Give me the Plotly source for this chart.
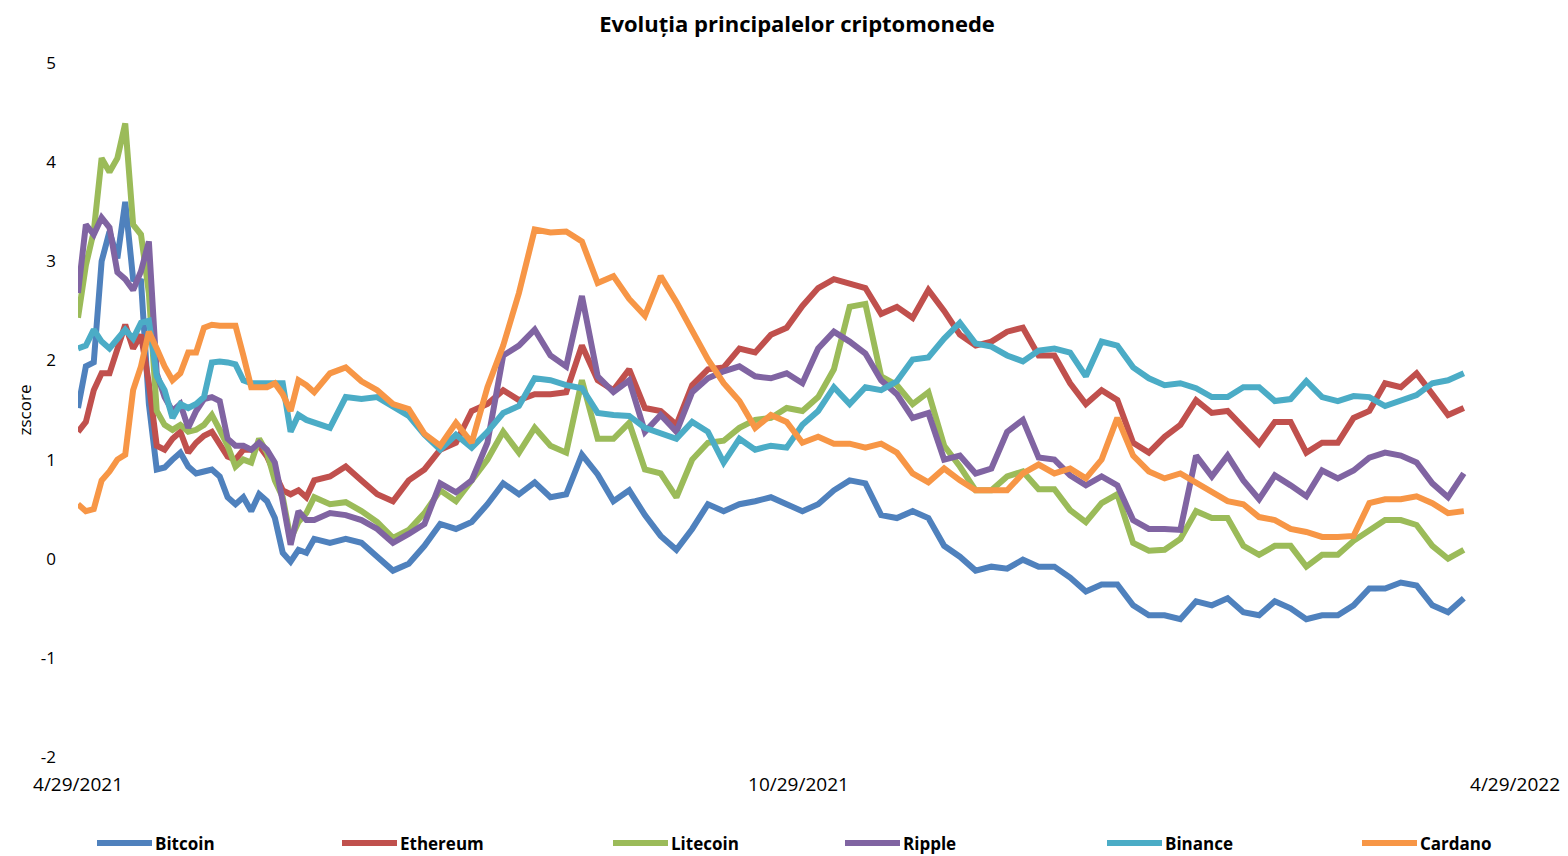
import pandas as pd
import plotly.graph_objects as go

# day offsets from 2021-04-29 at which values were read
day_offsets = list(range(0, 61, 2)) + list(range(64, 353, 4))
start_date = pd.Timestamp("2021-04-29")
dates = [start_date + pd.Timedelta(days=d) for d in day_offsets]

bitcoin = [1.52, 1.94, 1.98, 3.0, 3.3, 3.03, 3.6, 2.82, 2.8, 1.56, 0.9, 0.92, 1.0, 1.07, 0.93, 0.86,
           0.88, 0.9, 0.83, 0.62, 0.55, 0.62, 0.48, 0.65, 0.58, 0.41, 0.06, -0.03, 0.09, 0.06, 0.2,
           0.16, 0.2, 0.16, 0.02, -0.12, -0.05, 0.13, 0.35, 0.3, 0.37, 0.55, 0.76, 0.65, 0.77, 0.62, 0.65,
           1.05, 0.85, 0.58, 0.69, 0.44, 0.23, 0.09, 0.3, 0.55, 0.48, 0.55, 0.58, 0.62, 0.55, 0.48, 0.55,
           0.69, 0.79, 0.76, 0.44, 0.41, 0.48, 0.41, 0.13, 0.02, -0.12, -0.08, -0.1, -0.01, -0.08, -0.08, -0.19,
           -0.33, -0.26, -0.26, -0.47, -0.57, -0.57, -0.61, -0.43, -0.47, -0.4, -0.54, -0.57, -0.43, -0.5, -0.61, -0.57,
           -0.57, -0.47, -0.3, -0.3, -0.24, -0.27, -0.47, -0.54, -0.4]

ethereum = [1.28, 1.38, 1.7, 1.87, 1.87, 2.12, 2.36, 2.12, 2.26, 1.77, 1.14, 1.1, 1.21, 1.28, 1.07, 1.17,
            1.24, 1.28, 1.14, 1.03, 1.0, 1.1, 1.1, 1.14, 1.03, 0.86, 0.69, 0.65, 0.69, 0.62, 0.79,
            0.83, 0.93, 0.79, 0.65, 0.58, 0.79, 0.9, 1.1, 1.17, 1.49, 1.56, 1.7, 1.6, 1.66, 1.66, 1.68,
            2.15, 1.8, 1.7, 1.91, 1.52, 1.49, 1.35, 1.75, 1.91, 1.93, 2.12, 2.08, 2.26, 2.33, 2.55, 2.73,
            2.82, 2.78, 2.73, 2.47, 2.54, 2.43, 2.71, 2.5, 2.26, 2.15, 2.19, 2.29, 2.33, 2.05, 2.05, 1.77,
            1.56, 1.7, 1.6, 1.17, 1.07, 1.23, 1.35, 1.6, 1.47, 1.49, 1.32, 1.16, 1.38, 1.38, 1.07, 1.17,
            1.17, 1.42, 1.49, 1.77, 1.73, 1.87, 1.66, 1.45, 1.52]

litecoin = [2.43, 2.96, 3.3, 4.04, 3.9, 4.04, 4.39, 3.37, 3.27, 2.68, 1.49, 1.35, 1.3, 1.35, 1.28, 1.3,
            1.35, 1.45, 1.3, 1.14, 0.93, 1.0, 0.97, 1.21, 1.07, 0.79, 0.62, 0.2, 0.37, 0.46, 0.62,
            0.55, 0.57, 0.48, 0.37, 0.21, 0.29, 0.46, 0.69, 0.58, 0.79, 1.0, 1.28, 1.07, 1.32, 1.14, 1.07,
            1.8, 1.21, 1.21, 1.37, 0.9, 0.86, 0.62, 1.0, 1.17, 1.19, 1.32, 1.4, 1.42, 1.52, 1.49, 1.63,
            1.91, 2.54, 2.57, 1.84, 1.75, 1.56, 1.68, 1.14, 0.93, 0.69, 0.69, 0.83, 0.88, 0.7, 0.7, 0.49,
            0.37, 0.56, 0.65, 0.16, 0.08, 0.09, 0.2, 0.48, 0.41, 0.41, 0.13, 0.04, 0.13, 0.13, -0.08, 0.04,
            0.04, 0.18, 0.29, 0.39, 0.39, 0.34, 0.13, 0.0, 0.09]

ripple = [2.68, 3.37, 3.27, 3.44, 3.34, 2.89, 2.82, 2.71, 2.9, 3.2, 1.87, 1.63, 1.49, 1.56, 1.32, 1.49,
          1.61, 1.63, 1.59, 1.21, 1.14, 1.14, 1.1, 1.17, 1.1, 0.97, 0.58, 0.14, 0.48, 0.39, 0.39,
          0.46, 0.44, 0.39, 0.3, 0.16, 0.25, 0.35, 0.76, 0.67, 0.79, 1.17, 2.05, 2.15, 2.31, 2.05, 1.94,
          2.65, 1.84, 1.68, 1.8, 1.28, 1.45, 1.28, 1.68, 1.82, 1.89, 1.94, 1.84, 1.82, 1.87, 1.77, 2.12,
          2.29, 2.19, 2.07, 1.8, 1.66, 1.42, 1.47, 1.0, 1.04, 0.86, 0.91, 1.28, 1.4, 1.02, 1.0, 0.84,
          0.74, 0.83, 0.74, 0.39, 0.3, 0.3, 0.29, 1.04, 0.83, 1.04, 0.79, 0.6, 0.84, 0.74, 0.63, 0.89,
          0.81, 0.89, 1.02, 1.07, 1.04, 0.97, 0.76, 0.62, 0.86]

binance = [2.12, 2.15, 2.31, 2.19, 2.12, 2.22, 2.31, 2.22, 2.38, 2.4, 1.84, 1.7, 1.42, 1.56, 1.52, 1.56,
           1.63, 1.98, 1.99, 1.98, 1.96, 1.8, 1.77, 1.77, 1.77, 1.77, 1.77, 1.28, 1.45, 1.4, 1.37,
           1.32, 1.63, 1.61, 1.63, 1.54, 1.44, 1.25, 1.1, 1.25, 1.12, 1.28, 1.47, 1.54, 1.82, 1.8, 1.75,
           1.72, 1.47, 1.45, 1.44, 1.32, 1.26, 1.21, 1.38, 1.28, 0.97, 1.21, 1.1, 1.14, 1.12, 1.35, 1.49,
           1.73, 1.56, 1.73, 1.7, 1.79, 2.01, 2.03, 2.22, 2.38, 2.17, 2.14, 2.05, 1.99, 2.1, 2.12, 2.08,
           1.84, 2.19, 2.15, 1.93, 1.82, 1.75, 1.77, 1.72, 1.63, 1.63, 1.73, 1.73, 1.59, 1.61, 1.79, 1.63,
           1.59, 1.64, 1.63, 1.54, 1.6, 1.65, 1.77, 1.8, 1.87]

cardano = [0.55, 0.48, 0.5, 0.79, 0.88, 1.0, 1.05, 1.7, 1.94, 2.29, 2.12, 1.94, 1.8, 1.87, 2.08, 2.08,
           2.33, 2.36, 2.35, 2.35, 2.35, 2.05, 1.73, 1.73, 1.73, 1.77, 1.66, 1.49, 1.8, 1.75, 1.68,
           1.87, 1.93, 1.79, 1.7, 1.56, 1.51, 1.26, 1.14, 1.37, 1.17, 1.73, 2.15, 2.68, 3.32, 3.29, 3.3,
           3.2, 2.78, 2.85, 2.62, 2.45, 2.85, 2.59, 2.31, 2.01, 1.77, 1.59, 1.32, 1.45, 1.38, 1.17, 1.23,
           1.16, 1.16, 1.12, 1.16, 1.07, 0.86, 0.77, 0.91, 0.79, 0.69, 0.69, 0.69, 0.86, 0.95, 0.86, 0.91,
           0.81, 1.0, 1.42, 1.04, 0.88, 0.81, 0.86, 0.77, 0.67, 0.58, 0.55, 0.42, 0.39, 0.3, 0.27, 0.22,
           0.22, 0.23, 0.56, 0.6, 0.6, 0.63, 0.56, 0.46, 0.48]

series_names = ["Bitcoin", "Ethereum", "Litecoin", "Ripple", "Binance", "Cardano"]
series_values = [bitcoin, ethereum, litecoin, ripple, binance, cardano]
colors = ["#4F81BD", "#C0504D", "#9BBB59", "#8064A2", "#4BACC6", "#F79646"]

x_tick_vals = ["2021-04-29", "2021-10-29", "2022-04-29"]
x_tick_text = ["4/29/2021", "10/29/2021", "4/29/2022"]
y_tick_vals = [-2, -1, 0, 1, 2, 3, 4, 5]
y_tick_text = ["-2", "-1", "0", "1", "2", "3", "4", "5"]

# layout geometry, in screen pixels; the page body adds an 8 px offset
PAGE_OFFSET = 8
SCREEN_W, SCREEN_H = 1568, 856
W, H = SCREEN_W - PAGE_OFFSET, SCREEN_H - PAGE_OFFSET
PLOT_LEFT, PLOT_RIGHT, PLOT_TOP, PLOT_BOTTOM = 78, 1515, 63, 757   # screen px
M_L = PLOT_LEFT - PAGE_OFFSET
M_T = PLOT_TOP - PAGE_OFFSET
M_R = SCREEN_W - PLOT_RIGHT
M_B = SCREEN_H - PLOT_BOTTOM
PLOT_W = PLOT_RIGHT - PLOT_LEFT
PLOT_H = PLOT_BOTTOM - PLOT_TOP
FONT = "Open Sans, Liberation Sans, sans-serif"

def px_to_paper_x(px):
    return (px - PLOT_LEFT) / PLOT_W

def px_to_paper_y(py):
    return (PLOT_BOTTOM - py) / PLOT_H

fig = go.Figure()
for name, vals, col in zip(series_names, series_values, colors):
    fig.add_trace(go.Scatter(
        x=dates[:len(vals)], y=vals, name=name, mode="lines",
        line=dict(color=col, width=6, shape="linear"),
        showlegend=False,
    ))

# legend drawn below the plot (line sample + bold label), Excel style
legend_left_px = [97, 342, 613, 845, 1107, 1362]
legend_y_px = 843
sample_len = 55
for name, col, lx in zip(series_names, colors, legend_left_px):
    fig.add_shape(type="line", xref="paper", yref="paper",
                  x0=px_to_paper_x(lx), x1=px_to_paper_x(lx + sample_len),
                  y0=px_to_paper_y(legend_y_px), y1=px_to_paper_y(legend_y_px),
                  line=dict(color=col, width=6))
    fig.add_annotation(text="<b>" + name + "</b>", xref="paper", yref="paper",
                       x=px_to_paper_x(lx + sample_len + 1), y=px_to_paper_y(legend_y_px),
                       xanchor="left", yanchor="middle", showarrow=False,
                       font=dict(family=FONT, size=17, color="#000000"))

fig.update_layout(
    width=W, height=H,
    paper_bgcolor="white", plot_bgcolor="white",
    margin=dict(l=M_L, r=M_R, t=M_T, b=M_B, autoexpand=False),
    title=dict(text="<b>Evoluția principalelor criptomonede</b>",
               x=(797 - PAGE_OFFSET) / W, xanchor="center",
               y=1 - (24 - PAGE_OFFSET) / H, yanchor="middle", automargin=False,
               font=dict(family=FONT, size=22, color="#000000")),
    font=dict(family=FONT, color="#000000"),
    showlegend=False,
)
fig.update_xaxes(
    type="date", range=["2021-04-29", "2022-04-29"], automargin=False,
    tickmode="array", tickvals=x_tick_vals, ticktext=x_tick_text,
    showgrid=False, zeroline=False, showline=False, ticks="",
    ticklabelstandoff=14,
    tickfont=dict(family=FONT, size=19, color="#000000"),
)
fig.update_yaxes(
    range=[-2, 5], automargin=False,
    tickmode="array", tickvals=y_tick_vals, ticktext=y_tick_text,
    showgrid=False, zeroline=False, showline=False, ticks="",
    ticklabelstandoff=21,
    tickfont=dict(family=FONT, size=17, color="#000000"),
    title=dict(text="zscore", standoff=4,
               font=dict(family=FONT, size=17, color="#000000")),
)

fig.write_html("out.html")
